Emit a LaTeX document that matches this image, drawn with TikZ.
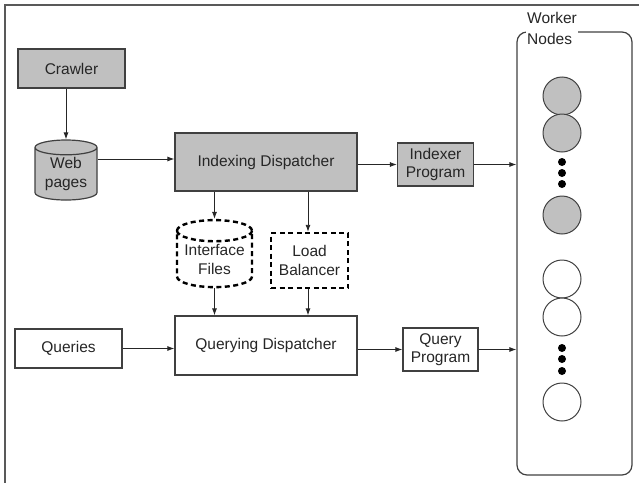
\documentclass[tikz,border=0pt]{standalone}
\usepackage{fontspec}
\setmainfont{Liberation Sans}
\usetikzlibrary{arrows.meta,shapes.geometric}
\definecolor{boxgray}{HTML}{C0C0C0}
\definecolor{edgegray}{HTML}{404040}
\tikzset{
	every node/.style={font=\fontsize{15.5}{18.5}\selectfont, text=black!85, align=center},
	flow/.style={-{Latex[length=7pt,width=5pt]}, line width=0.9pt, black!85},
	graybox/.style={draw=edgegray, line width=1.2pt, fill=boxgray, inner sep=0pt},
	whitebox/.style={draw=edgegray, line width=1.2pt, fill=white, inner sep=0pt},
	drum/.style={cylinder, shape border rotate=90, inner sep=0pt, aspect=0.35},
	dashline/.style={draw=black, line width=2.4pt, dash pattern=on 5pt off 3.5pt},
	worker/.style={circle, draw=edgegray, line width=1pt, minimum size=38pt, inner sep=0pt}
}

\begin{document}
\begin{tikzpicture}[x=1pt, y=-1pt]
		%%%%% START %%%%%
		\useasboundingbox (0, 0) rectangle (639, 482);
		\clip (0, 0) rectangle (639, 482);
		\draw[line width=1.5pt, color=black!65] (5, 5) rectangle (700, 600);
		
		% indexing side
		\node[graybox, minimum width=107pt, minimum height=39pt] (crawler) at (71.5, 68.5) {Crawler};
		\node[drum, draw=edgegray, line width=1.2pt, fill=boxgray, minimum width=62pt, minimum height=60pt] (pages) at (66, 174) {Web\\pages};
		\node[graybox, minimum width=182pt, minimum height=58pt] (indexing) at (266, 162) {Indexing Dispatcher};
		\node[graybox, minimum width=76pt, minimum height=43pt] (indexer) at (435.5, 164.5) {Indexer\\Program};
		
		\node[drum, dashline, minimum width=75pt, minimum height=67pt] (iface) at (214.5, 259.5) {Interface\\Files};
		\node[dashline, inner sep=0pt, minimum width=77pt, minimum height=55pt] (balancer) at (309.5, 260.5) {Load\\Balancer};
		
		% querying side
		\node[whitebox, minimum width=107pt, minimum height=39pt] (queries) at (68.5, 348.5) {Queries};
		\node[whitebox, minimum width=182pt, minimum height=59pt] (querying) at (266, 345.5) {Querying Dispatcher};
		\node[whitebox, minimum width=75pt, minimum height=43pt] (qprogram) at (440.5, 349.5) {Query\\Program};
		
		% worker nodes
		\node[draw=edgegray, line width=1.2pt, rounded corners=10pt, minimum width=115pt, minimum height=443pt] (workers) at (574.5, 253.5) {};
		\node[fill=white, inner sep=1pt, align=left, anchor=north west, font=\fontsize{15.5}{21}\selectfont] (wlabel) at (526, 11) {Worker\\Nodes};
		
		\node[worker, fill=boxgray] (g1) at (562, 96) {};
		\node[worker, fill=boxgray] (g2) at (562, 133) {};
		\node[worker, fill=boxgray] (g3) at (562, 215) {};
		\node[worker, fill=white] (w1) at (562, 279) {};
		\node[worker, fill=white] (w2) at (562, 317) {};
		\node[worker, fill=white] (w3) at (562, 402) {};
		\foreach \y in {162, 173, 184, 348, 359, 371}
			\fill (562, \y) circle (4pt);
		
		% connectors
		\draw[flow] (crawler.south -| pages.north) -- (pages.north);
		\draw[flow] ([yshift=15pt]pages.east) -- ([yshift=15pt]pages.east -| indexing.west);
		\draw[flow] (indexing.east |- indexer.west) -- (indexer.west);
		\draw[flow] (indexer.east) -- (indexer.east -| workers.west);
		\draw[flow] (indexing.south -| iface.north) -- (iface.north);
		\draw[flow] ([xshift=-1.5pt]indexing.south -| balancer.north) -- ([xshift=-1.5pt]balancer.north);
		\draw[flow] (iface.south) -- (iface.south |- querying.north);
		\draw[flow] ([xshift=-1.5pt]balancer.south) -- ([xshift=-1.5pt]balancer.south |- querying.north);
		\draw[flow] (queries.east) -- (queries.east -| querying.west);
		\draw[flow] (querying.east |- qprogram.west) -- (qprogram.west);
		\draw[flow] (qprogram.east) -- (qprogram.east -| workers.west);
		
		%%%%% END %%%%%
	\end{tikzpicture}
\end{document}
